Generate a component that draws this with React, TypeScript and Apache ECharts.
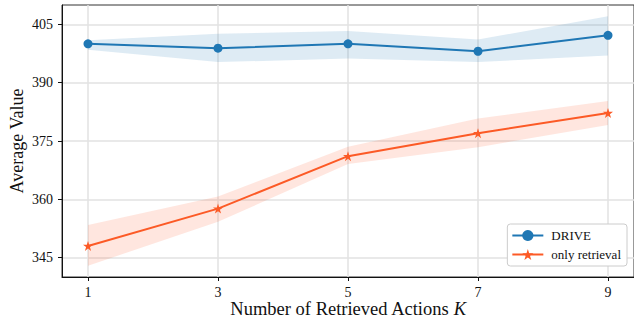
import React, { useEffect, useRef } from "react";
import * as echarts from "echarts";

const xs = [1, 3, 5, 7, 9];
const xTicks = [1, 3, 5, 7, 9];
const yTicks = [345, 360, 375, 390, 405];

const driveMean = [400.0, 398.9, 400.0, 398.1, 402.2];
const driveLower = [398.5, 395.3, 396.2, 395.3, 397.0];
const driveUpper = [400.9, 402.6, 403.3, 401.1, 407.1];

const retrMean = [348.0, 357.6, 371.1, 377.0, 382.2];
const retrLower = [342.9, 354.2, 369.1, 373.4, 379.1];
const retrUpper = [353.4, 360.7, 373.5, 380.8, 385.3];

const BLUE = "#1f77b4";
const ORANGE = "#fc5a26";
const FONT = "Liberation Serif";
const STAR =
  "path://M50,0 L61.2,34.5 L97.6,34.5 L68.2,55.9 L79.4,90.5 L50,69.1 L20.6,90.5 L31.8,55.9 L2.4,34.5 L38.8,34.5 Z";

function bandSeries(id: string, lower: number[], upper: number[], color: string) {
  return {
    name: id,
    type: "custom",
    silent: true,
    z: 1,
    data: xs.map((x, i) => [x, lower[i], upper[i]]),
    encode: { x: 0, y: [1, 2] },
    renderItem: (params: any, api: any) => {
      if (params.dataIndex !== 0) return null;
      const top = xs.map((x, i) => api.coord([x, upper[i]]));
      const bot = xs.map((x, i) => api.coord([x, lower[i]])).reverse();
      return {
        type: "polygon",
        shape: { points: top.concat(bot) },
        style: { fill: color },
      };
    },
  };
}

export default function App() {
  const ref = useRef<HTMLDivElement>(null);
  useEffect(() => {
    if (!ref.current) return;
    const chart = echarts.init(ref.current, null, { renderer: "svg" });
    chart.setOption({
      animation: false,
      textStyle: { fontFamily: FONT },
      grid: {
        left: 62,
        right: 0,
        top: 5,
        bottom: 43,
        outerBoundsMode: "none",
        containLabel: false,
        show: true,
        borderColor: "#333",
        borderWidth: 1,
        backgroundColor: "transparent",
      },
      legend: {
        data: ["DRIVE", "only retrieval"],
        orient: "vertical",
        right: 7,
        top: 224,
        itemWidth: 31,
        itemHeight: 14,
        itemGap: 6,
        padding: [5, 6, 5, 4],
        backgroundColor: "#fff",
        borderColor: "#cccccc",
        borderWidth: 1,
        borderRadius: 3,
        textStyle: { fontFamily: FONT, fontSize: 13, color: "#111", padding: [0, 0, 0, 3] },
      },
      xAxis: {
        type: "value",
        min: 0.6,
        max: 9.4,
        name: "Number of Retrieved Actions {i|K}",
        nameLocation: "middle",
        nameGap: 22,
        nameMoveOverlap: false,
        nameTextStyle: {
          fontFamily: FONT,
          fontSize: 18.5,
          lineHeight: 19,
          color: "#111",
          rich: {
            i: { fontStyle: "italic", fontFamily: FONT, fontSize: 18.5, lineHeight: 19, color: "#111" },
          },
        },
        axisLine: { show: true, lineStyle: { color: "#111", width: 1 } },
        axisTick: { show: true, length: 4, customValues: xTicks, lineStyle: { color: "#111" } },
        axisLabel: { customValues: xTicks, fontFamily: FONT, fontSize: 14, color: "#111", margin: 8 },
        splitLine: { show: true, lineStyle: { color: "#e2e2e2", width: 1.5 } },
      },
      yAxis: {
        type: "value",
        min: 340,
        max: 410,
        name: "Average Value",
        nameLocation: "middle",
        nameGap: 36,
        nameMoveOverlap: false,
        nameTextStyle: { fontFamily: FONT, fontSize: 18, color: "#111" },
        axisLine: { show: true, lineStyle: { color: "#111", width: 1 } },
        axisTick: { show: true, length: 4, customValues: yTicks, lineStyle: { color: "#111" } },
        axisLabel: { customValues: yTicks, fontFamily: FONT, fontSize: 14, color: "#111", margin: 9 },
        splitLine: { show: true, lineStyle: { color: "#e2e2e2", width: 1.5 } },
      },
      series: [
        bandSeries("drive_band", driveLower, driveUpper, "rgba(31,119,180,0.15)"),
        bandSeries("retr_band", retrLower, retrUpper, "rgba(252,90,38,0.15)"),
        {
          name: "DRIVE",
          type: "line",
          data: xs.map((x, i) => [x, driveMean[i]]),
          symbol: "circle",
          symbolSize: 9,
          lineStyle: { color: BLUE, width: 2 },
          itemStyle: { color: BLUE },
          z: 3,
        },
        {
          name: "only retrieval",
          type: "line",
          data: xs.map((x, i) => [x, retrMean[i]]),
          symbol: STAR,
          symbolSize: 10,
          lineStyle: { color: ORANGE, width: 2 },
          itemStyle: { color: ORANGE },
          z: 3,
        },
      ],
    });
    return () => chart.dispose();
  }, []);
  return (
    <div
      ref={ref}
      style={{ position: "fixed", left: 0, top: 0, width: 634, height: 320, background: "#fff" }}
    />
  );
}
